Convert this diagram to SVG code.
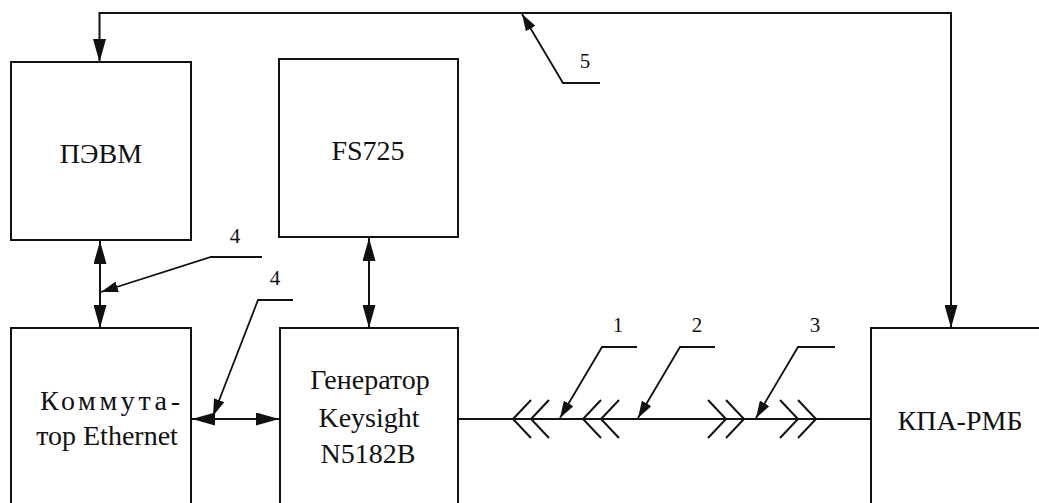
<svg xmlns="http://www.w3.org/2000/svg" width="1039" height="503" viewBox="0 0 1039 503">
<style>
.box{fill:none;stroke:#111;stroke-width:2}
.ln{fill:none;stroke:#111;stroke-width:2}
.ld{fill:none;stroke:#111;stroke-width:1.8}
.t{font-family:"Liberation Serif",Tinos,"Nimbus Roman","Noto Serif",FreeSerif,Times,serif;font-size:28px;fill:#111;text-anchor:middle}
.n{font-family:"Liberation Serif",Tinos,"Nimbus Roman","Noto Serif",FreeSerif,Times,serif;font-size:21px;fill:#111;text-anchor:middle}
</style>
<defs>
<marker id="arr" viewBox="0 0 23 13" refX="23" refY="6.5" markerWidth="23" markerHeight="13" markerUnits="userSpaceOnUse" orient="auto-start-reverse">
<path d="M0,0 L23,6.5 L0,13 z" fill="#111"/>
</marker>
<marker id="sarr" viewBox="0 0 17 11" refX="17" refY="5.5" markerWidth="17" markerHeight="11" markerUnits="userSpaceOnUse" orient="auto">
<path d="M0,0 L17,5.5 L0,11 z" fill="#111"/>
</marker>
</defs>

<g id="pevm">
<rect class="box" x="11" y="62" width="180" height="178"/>
<text class="t" x="101" y="163">ПЭВМ</text>
</g>
<g id="fs725">
<rect class="box" x="279" y="59" width="179" height="178"/>
<text class="t" x="368" y="160">FS725</text>
</g>
<g id="kommutator">
<path class="box" d="M11,504 V328 H191 V504"/>
<text class="t" x="110" y="410" textLength="140" lengthAdjust="spacing">Коммута-</text>
<text class="t" x="107" y="445">тор Ethernet</text>
</g>
<g id="generator">
<path class="box" d="M280,504 V328 H458 V504"/>
<text class="t" x="370" y="389">Генератор</text>
<text class="t" x="369" y="427">Keysight</text>
<text class="t" x="368" y="463">N5182B</text>
</g>
<g id="kpa">
<path class="box" d="M871,504 V328 H1040"/>
<text class="t" x="960" y="430">КПА-РМБ</text>
</g>

<g id="connectors">
<path class="ln" d="M951,328 V13 H99.5 V62" marker-end="url(#arr)"/>
<path class="ln" d="M951,13 V328" marker-end="url(#arr)"/>
<line class="ln" x1="100" y1="241" x2="100" y2="328" marker-start="url(#arr)" marker-end="url(#arr)"/>
<line class="ln" x1="369" y1="238" x2="369" y2="328" marker-start="url(#arr)" marker-end="url(#arr)"/>
<line class="ln" x1="192" y1="419" x2="279" y2="419" marker-start="url(#arr)" marker-end="url(#arr)"/>
<line class="ln" x1="458" y1="419" x2="871" y2="419"/>
<path class="ln" d="M531,400 L513,419 L531,438 M549,400 L531,419 L549,438"/>
<path class="ln" d="M601,400 L583,419 L601,438 M619,400 L601,419 L619,438"/>
<path class="ln" d="M708,400 L726,419 L708,438 M726,400 L744,419 L726,438"/>
<path class="ln" d="M780,400 L798,419 L780,438 M798,400 L816,419 L798,438"/>
<path class="ld" d="M600,83 H563 L522,14" marker-end="url(#sarr)"/>
<path class="ld" d="M262,257 H211 L101,292" marker-end="url(#sarr)"/>
<path class="ld" d="M293,300 H258 L213,416" marker-end="url(#sarr)"/>
<path class="ld" d="M637,347 H602 L560,418" marker-end="url(#sarr)"/>
<path class="ld" d="M715,347 H680 L638,418" marker-end="url(#sarr)"/>
<path class="ld" d="M835,347 H798 L756,418" marker-end="url(#sarr)"/>
</g>

<g id="labels">
<text class="n" x="585" y="68">5</text>
<text class="n" x="235" y="243">4</text>
<text class="n" x="275" y="285">4</text>
<text class="n" x="618" y="332">1</text>
<text class="n" x="697" y="332">2</text>
<text class="n" x="815" y="332">3</text>
</g>
</svg>
